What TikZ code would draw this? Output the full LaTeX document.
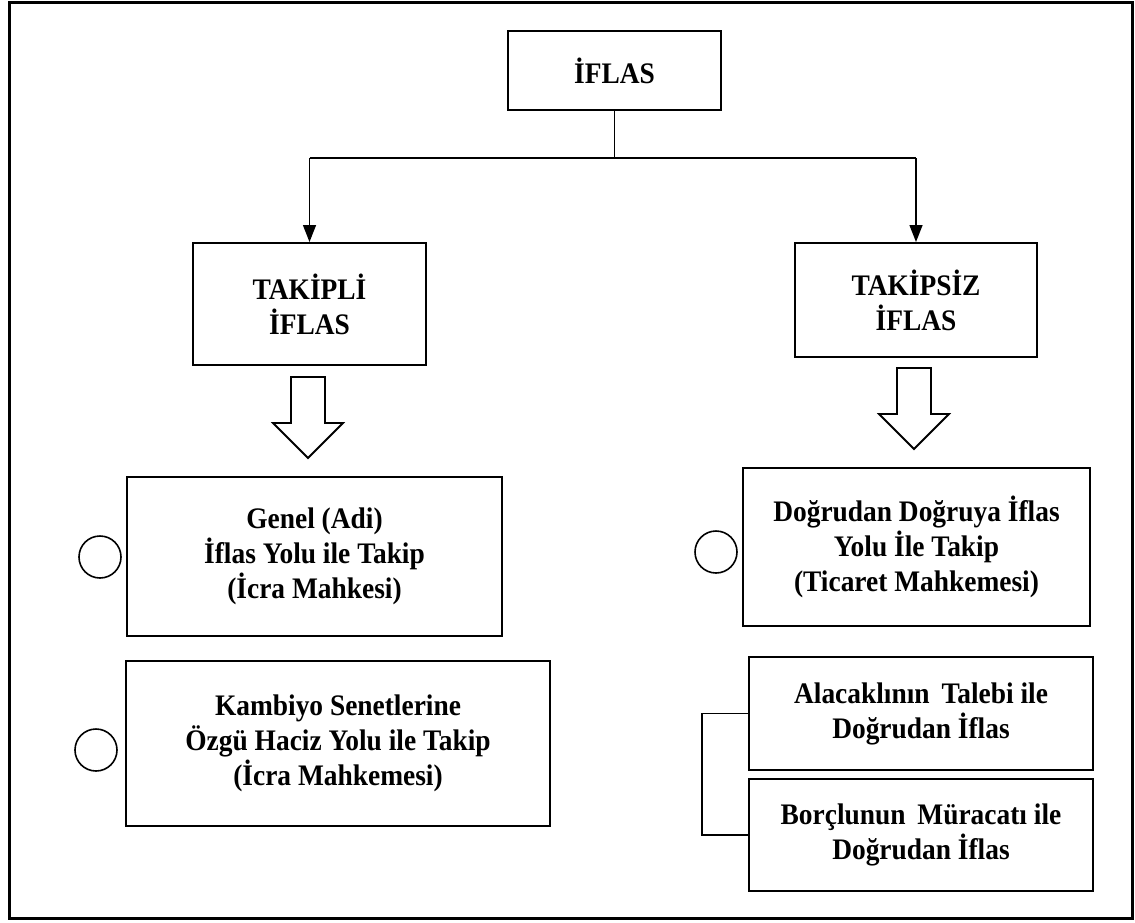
\documentclass[tikz,border=0pt]{standalone}
\usepackage{fontspec}
\setmainfont{Liberation Serif}
\newfontfamily\kutuyazi{Liberation Serif}[FakeStretch=0.92]
\usepackage{tikz}
\usetikzlibrary{calc}
\usetikzlibrary{arrows.meta}

\begin{document}
\begin{tikzpicture}[x=1pt,y=-1pt,
	kutu/.style={draw,line width=2pt,align=center,inner sep=0pt,
		font=\kutuyazi\fontsize{29.8}{35}\selectfont\bfseries},
	halka/.style={draw,circle,line width=1.6pt,minimum size=42pt,inner sep=0pt},
	bag/.style={line width=1.4pt},
	ok/.style={bag,-{Triangle[length=17pt,width=13pt]}}]
			\useasboundingbox (0,0) rectangle (1135,922);
			\draw[line width=3pt] (9,2) rectangle (1132,918);
			%kutular
			\node[kutu,minimum width=213pt,minimum height=79pt] (iflas) at (614.5,70.5) {İFLAS};
			\node[kutu,minimum width=233pt,minimum height=122pt] (takipli) at (309.5,304) {TAKİPLİ\\İFLAS};
			\node[kutu,minimum width=242pt,minimum height=114pt] (takipsiz) at (916,300) {TAKİPSİZ\\İFLAS};
			\node[kutu,minimum width=375pt,minimum height=159pt] (genel) at (314.5,556.5) {Genel (Adi)\\İflas Yolu ile Takip\\(İcra Mahkesi)};
			\node[kutu,minimum width=424pt,minimum height=165pt] (kambiyo) at (338,743.5) {Kambiyo Senetlerine\\Özgü Haciz Yolu ile Takip\\(İcra Mahkemesi)};
			\node[kutu,minimum width=347pt,minimum height=158pt] (dogrudan) at (916.5,547) {Doğrudan Doğruya İflas\\Yolu İle Takip\\(Ticaret Mahkemesi)};
			\node[kutu,minimum width=344pt,minimum height=113pt] (alacakli) at (921,713.5) {Alacaklının\ \,Talebi ile\\Doğrudan İflas};
			\node[kutu,minimum width=344pt,minimum height=112pt] (borclu) at (921,835) {Borçlunun\ \,Müracatı ile\\Doğrudan İflas};
			%halkalar
			\node[halka] (halka1) at (100,557) {};
			\node[halka] (halka2) at (96,750) {};
			\node[halka] (halka3) at (716,552) {};
			%dallanma
			\coordinate (dal) at (614.5,158);
			\draw[bag] (iflas.south) -- (dal);
			\draw[bag] (takipli.north |- dal) -- (takipsiz.north |- dal);
			\draw[ok] (takipli.north |- dal) -- (takipli.north);
			\draw[ok] (takipsiz.north |- dal) -- (takipsiz.north);
			%bos oklar
			\foreach \ox/\oy in {308/377,914/368}
				\draw[line width=1.8pt,line join=miter] ({\ox-17},\oy) -- ({\ox+17},\oy) -- ({\ox+17},{\oy+46}) -- ({\ox+35},{\oy+46})
					-- (\ox,{\oy+81}) -- ({\ox-35},{\oy+46}) -- ({\ox-17},{\oy+46}) -- cycle;
			%kose bag
			\draw[bag] (alacakli.west) -- ++(-46,0) |- (borclu.west);
		\end{tikzpicture}
\end{document}
